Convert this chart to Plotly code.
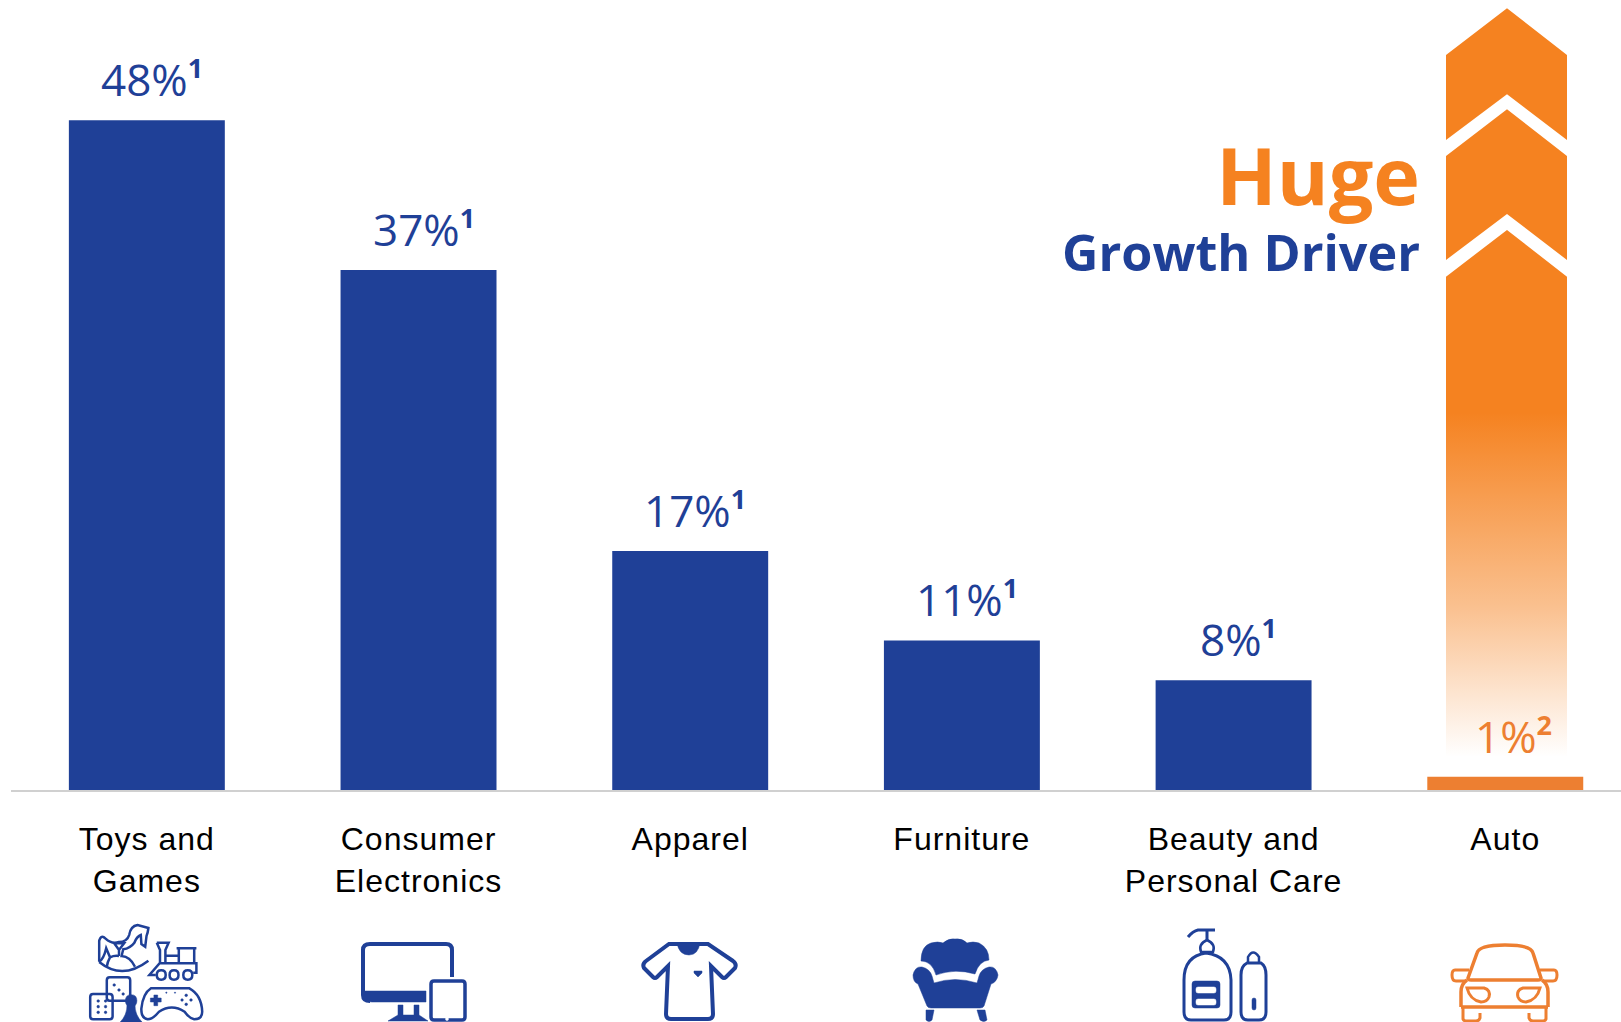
import re
import plotly.graph_objects as go

categories = ["Toys and|Games", "Consumer|Electronics", "Apparel", "Furniture", "Beauty and|Personal Care", "Auto"]
values = [47.9, 37.2, 17.1, 10.7, 7.85, 0.95]
labels = ["48%", "37%", "17%", "11%", "8%", "1%"]
notes = ["1", "1", "1", "1", "1", "2"]

NAVY = "#1F4097"
ORANGE = "#F58220"
AUTO = "#ED7F31"
W, H = 1621, 1022

fig = go.Figure()

# chevron arrow (drawn on a hidden pixel-sized axis pair, underneath the bars)
L, C, R = 1446, 1507, 1567
ax = [L, C, R, R, C, L, L, None,
      L, C, R, R, C, L, L, None,
      L, C, R, R, L, L]
ay = [55, 8.3, 55, 140, 94.3, 140, 55, None,
      156, 109.3, 156, 260, 214, 260, 156, None,
      276.7, 230, 276.7, 757, 757, 276.7]
fig.add_trace(go.Scatter(
    x=ax, y=ay, xaxis="x", yaxis="y", mode="lines", line=dict(width=0),
    fill="toself", hoverinfo="skip", showlegend=False,
    fillgradient=dict(type="vertical", start=8.3, stop=757,
                      colorscale=[[0, ORANGE], [0.54, ORANGE], [0.8, "rgba(245,130,32,0.5)"], [1, "rgba(245,130,32,0)"]]),
))

fig.add_trace(go.Bar(
    x=categories, y=values, xaxis="x2", yaxis="y2", width=0.574,
    marker=dict(color=[NAVY] * 5 + [AUTO], line=dict(width=0)),
    hoverinfo="skip", showlegend=False,
))


def stroke(path, color=NAVY, width=3):
    return dict(type="path", xref="x", yref="y", path=path, line=dict(color=color, width=width), fillcolor="rgba(0,0,0,0)", layer="above")


def solid(path, color=NAVY):
    return dict(type="path", xref="x", yref="y", path=path, line=dict(color=color, width=0.5), fillcolor=color, layer="above")


def rrect(x0, y0, x1, y1, r):
    return (f"M{x0+r},{y0} L{x1-r},{y0} Q{x1},{y0} {x1},{y0+r} L{x1},{y1-r} Q{x1},{y1} {x1-r},{y1} "
            f"L{x0+r},{y1} Q{x0},{y1} {x0},{y1-r} L{x0},{y0+r} Q{x0},{y0} {x0+r},{y0} Z")


def dot(cx, cy, r):
    return rrect(cx - r, cy - r, cx + r, cy + r, r)


def toy(path):
    # the toys icon is traced at 3x around (85, 920)
    def conv(m):
        return f"{87 + float(m.group(1)) * 0.32:.1f},{920 + float(m.group(2)) / 3:.1f}"
    return re.sub(r"(-?[\d.]+),(-?[\d.]+)", conv, path)


def tstroke(path, width=2.5):
    return stroke(toy(path), width=width)


def tsolid(path):
    return solid(toy(path))


def tdot(x, y, r):
    return tsolid(dot(x, y, r))


shapes = []
# toys: rocking horse
shapes += [
    tstroke("M38,125 L38,62 Q44,42 58,56 Q78,74 100,66 Q125,66 132,45 Q136,18 158,15 L192,24 Q190,40 186,48 L182,80 L170,72 L168,45 Q155,50 148,68 Q135,85 113,88 L108,108 Q135,110 150,140"),
    tstroke("M85,70 L116,70 L100,90 Z M100,90 L100,108"),
    tstroke("M38,125 Q52,118 60,85 L72,112 Q85,106 100,108 M72,112 Q64,125 62,140"),
    tstroke("M38,126 Q110,182 192,122"),
    # train
    tstroke("M218,68 L255,68 L245,90 L245,130 M218,68 L228,90 L228,128 L195,165 L215,165 M280,85 L342,85 M287,85 L287,130 M335,85 L335,130 M245,107 L287,107 M228,130 L342,130 L342,158 L332,158"),
    tstroke(rrect(218, 151, 246, 179, 14) + " " + rrect(258, 151, 286, 179, 14) + " " + rrect(301, 151, 329, 179, 14)),
    # dice
    tstroke(rrect(62, 172, 135, 242, 9)),
    tdot(85, 195, 4), tdot(100, 210, 4), tdot(113, 222, 4),
    tstroke(rrect(10, 222, 80, 298, 9)),
    tdot(35, 243, 4), tdot(58, 243, 4), tdot(35, 260, 4), tdot(58, 260, 4), tdot(35, 277, 4), tdot(58, 277, 4),
    # pawn
    tsolid(dot(138, 242, 18)),
    tsolid("M125,255 L150,255 Q150,285 172,306 L104,306 Q125,285 125,255 Z"),
    # gamepad
    tstroke("M200,205 L320,205 Q358,225 360,275 Q360,298 335,298 Q320,295 305,275 Q265,250 225,275 Q205,298 190,298 Q168,295 170,265 Q175,220 200,205 Z"),
    tsolid("M209,225 L221,225 L221,234 L232,234 L232,246 L221,246 L221,257 L209,257 L209,246 L198,246 L198,234 L209,234 Z"),
    tdot(310, 226, 4), tdot(325, 240, 4), tdot(310, 253, 4), tdot(297, 240, 4),
    tdot(248, 218, 2), tdot(275, 218, 2),
]
# electronics
shapes += [
    stroke("M452,977 L452,950 Q452,944 446,944 L370,944 Q363,944 363,950 L363,995 Q363,1001 370,1001", width=4),
    solid("M363,991 L426,991 L426,1002 L372,1002 Q362,1002 362,994 Z"),
    solid("M398,1005 L403,1005 L403,1015 L414,1015 L414,1005 L419,1005 L419,1015 L428,1021 L388,1021 L398,1015 Z"),
    stroke(rrect(431, 981, 465, 1020, 3), width=3.5),
    solid(dot(447, 1019, 1.5), "#FFFFFF"),
]
# t-shirt
shapes += [
    stroke("M669,944 L708,944 L733,961 Q737,964 735,968 L726,977 Q724,979 722,977 L711,966 L713,1014 Q713,1019 708,1019 L671,1019 Q666,1019 666,1014 L668,966 L657,977 Q655,979 653,977 L644,968 Q642,964 646,961 Z", width=4),
    solid("M677,943 L700,943 Q698,955 689,955 Q679,955 677,943 Z"),
    solid("M694,971 L702,971 L702,973 L698,977 L694,973 Z"),
]
# armchair
shapes += [
    solid("M921,961 Q921,946 931,943 Q938,941 943,943 Q949,938 955,939 Q962,938 967,943 Q973,941 979,943 Q989,948 989,960 Q979,961 975,974 Q955,968 936,975 Q932,961 921,961 Z"),
    solid("M922,967 Q915,966 913,975 Q913,982 918,984 L927,1006 Q928,1008 931,1008 L980,1008 Q983,1008 984,1006 L991,984 Q997,982 998,975 Q996,966 989,967 Q981,969 979,976 L977,983 Q955,976 934,983 L932,976 Q930,969 922,967 Z"),
    solid("M926,1010 L934,1010 L932,1020 Q929,1023 926,1020 Z"),
    solid("M977,1010 L985,1010 L987,1020 Q984,1023 980,1020 Z"),
]
# bottles
shapes += [
    stroke("M1184,1012 L1184,980 Q1184,956 1206,953 Q1230,956 1231,980 L1231,1012 Q1231,1020 1224,1020 L1191,1020 Q1184,1020 1184,1012 Z"),
    stroke("M1201,952 Q1198,944 1207,940 Q1216,944 1213,952 Z", width=2.5),
    stroke("M1207,940 L1207,930 M1188,937 Q1193,931 1198,930 L1215,930", width=3),
    solid(rrect(1192, 981, 1220, 1008, 3)),
    solid(rrect(1196, 987, 1216, 993, 2), "#FFFFFF"),
    solid(rrect(1196, 999, 1216, 1005, 2), "#FFFFFF"),
    stroke("M1241,1012 L1241,975 Q1241,966 1247,963 L1261,963 Q1266,966 1266,975 L1266,1012 Q1266,1020 1259,1020 L1248,1020 Q1241,1020 1241,1012 Z"),
    stroke("M1248,963 L1248,957 Q1253,948 1259,957 L1259,963", width=2.5),
    solid(rrect(1252, 998, 1256, 1010, 2)),
]
# car
shapes += [
    stroke("M1468,978 L1477,953 Q1479,945 1505,945 Q1531,945 1533,953 L1541,978 Q1541,980 1538,980 L1471,980 Q1468,980 1468,978 Z", AUTO, 3.5),
    stroke("M1461,1007 L1461,992 Q1461,984 1467,980 M1548,1007 L1548,992 Q1548,984 1542,980 M1461,1007 L1548,1007", AUTO, 3.5),
    stroke("M1469,970 L1455,970 Q1452,970 1452,975 Q1452,981 1456,981 L1466,981", AUTO, 3),
    stroke("M1540,970 L1554,970 Q1557,970 1557,975 Q1557,981 1553,981 L1543,981", AUTO, 3),
    stroke("M1467,988 L1484,988 Q1491,990 1489,997 Q1487,1002 1481,1002 Q1470,1000 1467,988 Z", AUTO, 3),
    stroke("M1540,988 L1523,988 Q1516,990 1518,997 Q1520,1002 1526,1002 Q1537,1000 1540,988 Z", AUTO, 3),
    stroke("M1463,1007 L1463,1019 Q1464,1021 1466,1021 L1476,1021 Q1479,1021 1480,1018 L1480,1013", AUTO, 3),
    stroke("M1546,1007 L1546,1019 Q1545,1021 1543,1021 L1533,1021 Q1530,1021 1529,1018 L1529,1013", AUTO, 3),
]

annotations = [
    dict(x=1422, y=203, xref="x", yref="y", showarrow=False, xanchor="right", yanchor="middle", align="right",
         text=(f"<span style='font-size:79px;color:{ORANGE}'><b>Huge</b></span><br>"
               f"<span style='font-size:50.3px;color:{NAVY}'><b>Growth Driver</b></span>"),
         font=dict(family="Open Sans", size=50.5, color=NAVY)),
]
for i, (c, v, l, n) in enumerate(zip(categories, values, labels, notes)):
    color = AUTO if i == 5 else NAVY
    annotations.append(dict(
        x=c, y=v, xref="x2", yref="y2", showarrow=False, yanchor="bottom", yshift=9, xshift=8 if i == 5 else 5,
        text=f"{l}<sup><b><span style='font-size:27px'>{n}</span></b></sup>",
        font=dict(family="Open Sans", size=44, color=color),
    ))


def tick(c):
    return "<br>".join(f"<span style='letter-spacing:1px'>{p}</span>" for p in c.split("|"))


fig.update_layout(
    width=W, height=H, margin=dict(l=0, r=0, t=0, b=0),
    paper_bgcolor="white", plot_bgcolor="rgba(0,0,0,0)", showlegend=False,
    shapes=shapes, annotations=annotations,
    xaxis=dict(domain=[0, 1], range=[0, W], visible=False, fixedrange=True),
    yaxis=dict(domain=[0, 1], range=[H, 0], visible=False, fixedrange=True),
    xaxis2=dict(domain=[11 / W, 1], anchor="y2", type="category", range=[-0.5, 5.426],
                categoryorder="array", categoryarray=categories,
                tickmode="array", tickvals=categories, ticktext=[tick(c) for c in categories],
                showgrid=False, showline=True, linecolor="#D0D0D0", linewidth=2, ticks="", ticklabelstandoff=20,
                tickfont=dict(family="Liberation Sans", size=32, color="#000000"), automargin=False, fixedrange=True),
    yaxis2=dict(domain=[232 / H, 1], anchor="x2", range=[0, 790 / 13.98], visible=False, fixedrange=True, automargin=False),
)

fig.write_html("out.html", config=dict(displayModeBar=False), post_script="document.body.style.margin='0'")
